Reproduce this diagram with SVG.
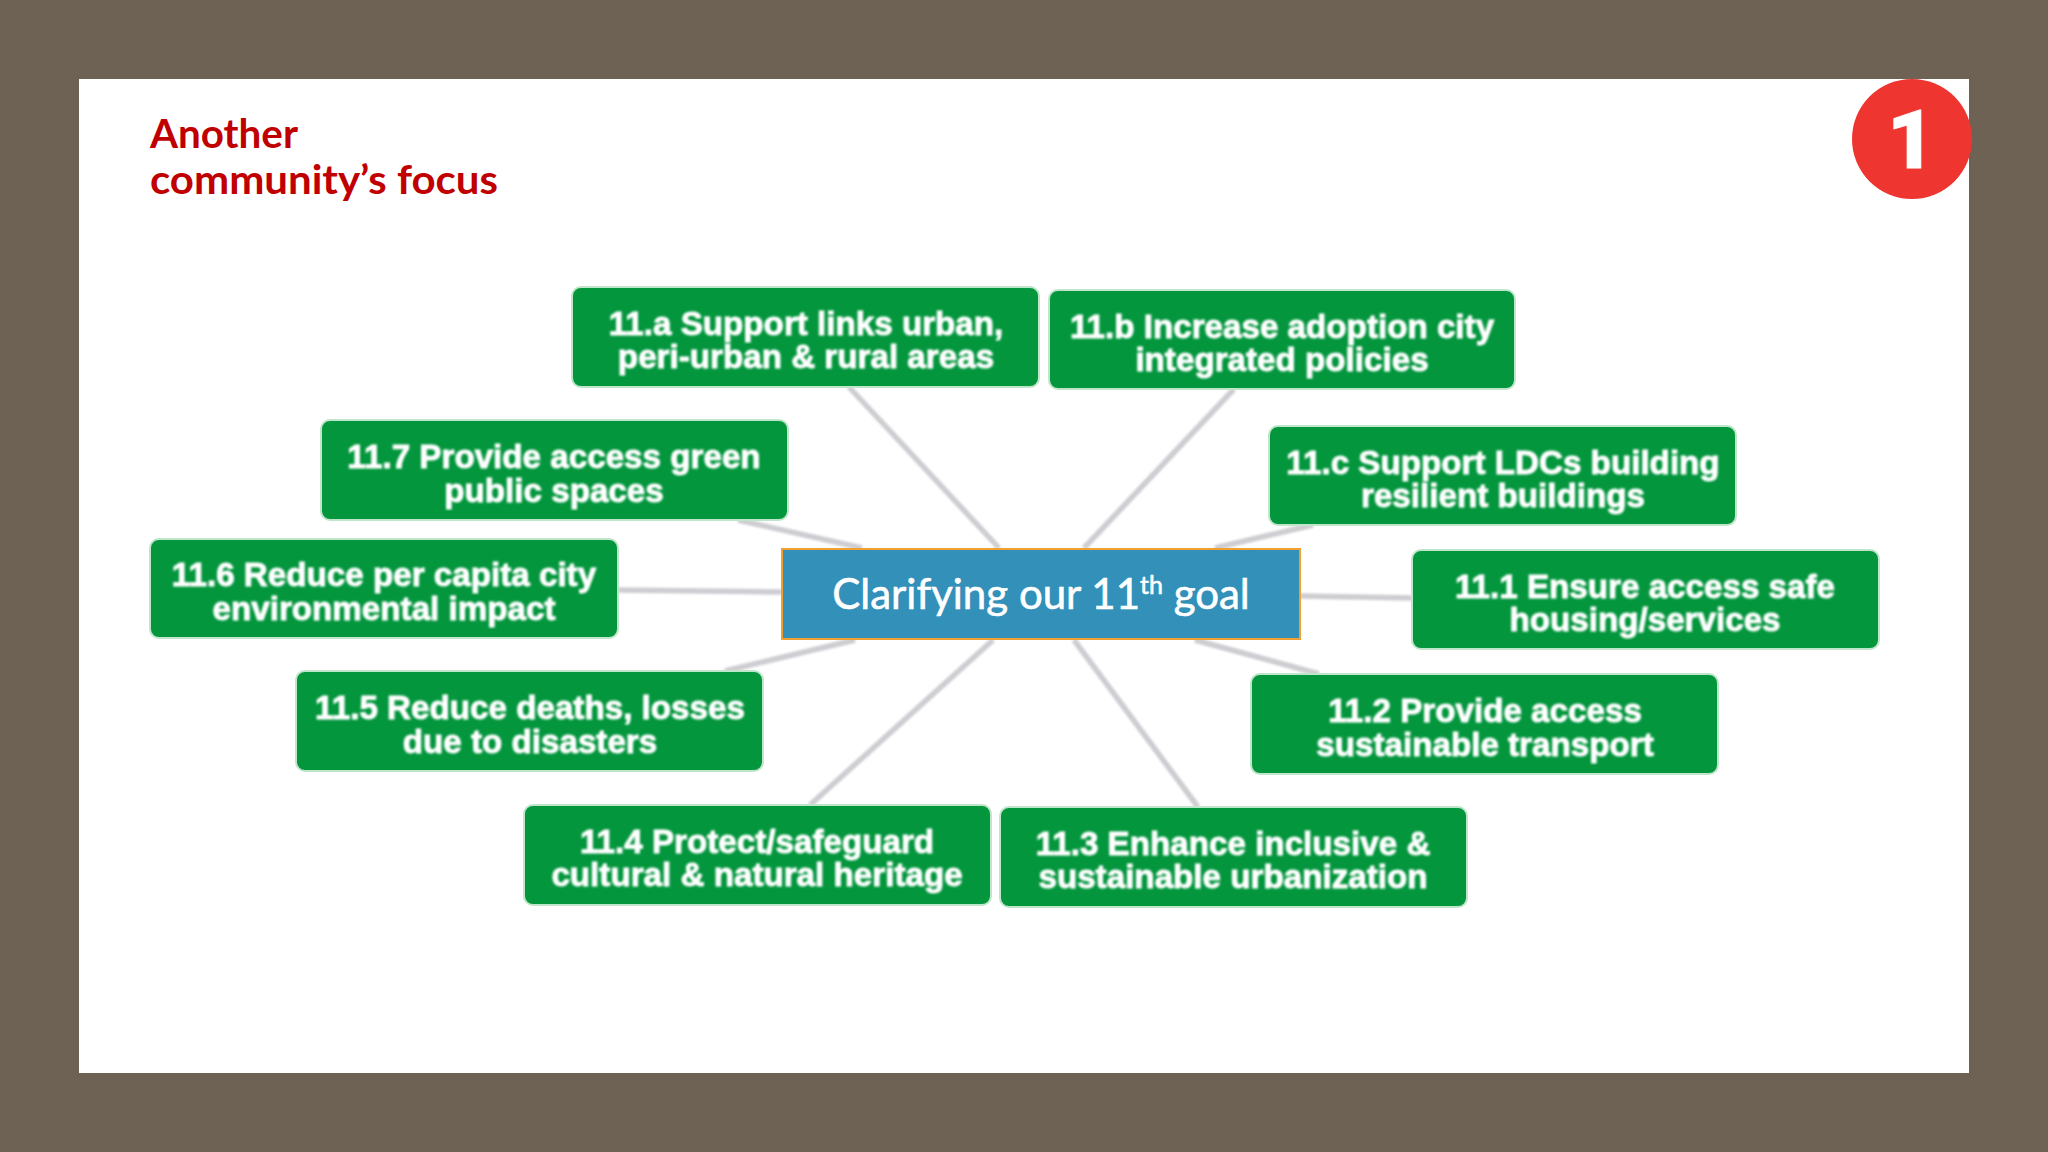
<svg xmlns="http://www.w3.org/2000/svg" width="2048" height="1152" viewBox="0 0 2048 1152">
<defs><filter id="soft" x="-5%" y="-5%" width="110%" height="110%"><feGaussianBlur stdDeviation="0.9"/></filter>
<filter id="softline" filterUnits="userSpaceOnUse" x="0" y="0" width="2048" height="1152"><feGaussianBlur stdDeviation="1.1"/></filter></defs>
<style>
.box{fill:#03963d;stroke:#bfe5cb;stroke-width:2}
.lbl{font-family:"Liberation Sans",Arial,sans-serif;font-weight:700;font-size:33.2px;fill:#fff;stroke:#fff;stroke-width:.9;text-anchor:middle;filter:url(#soft)}
.ttl{font-family:Lato,"Liberation Sans",sans-serif;font-weight:700;font-size:41px;fill:#c00000}
#connectors line{stroke:#cdcdd2;stroke-width:5.5;filter:url(#softline)}
</style>
<rect width="2048" height="1152" fill="#6d6253"/>
<rect x="79" y="79" width="1890" height="994" fill="#fff"/>
<text class="ttl" x="150" y="148" textLength="148" lengthAdjust="spacingAndGlyphs">Another</text>
<text class="ttl" x="150" y="194" textLength="348" lengthAdjust="spacingAndGlyphs">community’s focus</text>
<g id="badge"><circle cx="1912" cy="139" r="60" fill="#ee3530"/><text x="1911" y="167.5" font-family="Roboto,'Liberation Sans',sans-serif" font-weight="900" font-size="82" fill="#fff" stroke="#fff" stroke-width="1" text-anchor="middle">1</text></g>
<g id="connectors">
<line x1="849" y1="387" x2="999" y2="548"/><line x1="1234" y1="389" x2="1084" y2="548"/>
<line x1="738" y1="520" x2="862" y2="548"/><line x1="1313" y1="525" x2="1215" y2="548"/>
<line x1="618" y1="590" x2="782" y2="592"/><line x1="1300" y1="596" x2="1412" y2="598"/>
<line x1="725" y1="671" x2="855" y2="640"/><line x1="1319" y1="674" x2="1195" y2="640"/>
<line x1="810" y1="805" x2="993" y2="640"/><line x1="1198" y1="807" x2="1074" y2="640"/>
</g>
<g id="center"><rect x="782" y="549" width="518" height="90" fill="#3390b9" stroke="#f0a030" stroke-width="2"/>
<text x="1041" y="609" font-family="Lato,'Liberation Sans',sans-serif" font-size="42" fill="#fff" stroke="#fff" stroke-width=".6" text-anchor="middle">Clarifying our 11<tspan font-size="25" dy="-15">th</tspan><tspan dy="15"> goal</tspan></text></g>
<g id="n11a"><rect class="box" x="572" y="287" width="467" height="100" rx="9"/><text class="lbl" x="806" y="335">11.a Support links urban,</text><text class="lbl" x="806" y="368">peri-urban &amp; rural areas</text></g>
<g id="n11b"><rect class="box" x="1049" y="290" width="466" height="99" rx="9"/><text class="lbl" x="1282" y="338">11.b Increase adoption city</text><text class="lbl" x="1282" y="371">integrated policies</text></g>
<g id="n117"><rect class="box" x="321" y="420" width="467" height="100" rx="9"/><text class="lbl" x="554" y="468">11.7 Provide access green</text><text class="lbl" x="554" y="502">public spaces</text></g>
<g id="n11c"><rect class="box" x="1269" y="426" width="467" height="99" rx="9"/><text class="lbl" x="1503" y="474">11.c Support LDCs building</text><text class="lbl" x="1503" y="507">resilient buildings</text></g>
<g id="n116"><rect class="box" x="150" y="539" width="468" height="99" rx="9"/><text class="lbl" x="384" y="586">11.6 Reduce per capita city</text><text class="lbl" x="384" y="620">environmental impact</text></g>
<g id="n111"><rect class="box" x="1412" y="550" width="467" height="99" rx="9"/><text class="lbl" x="1645" y="598">11.1 Ensure access safe</text><text class="lbl" x="1645" y="631">housing/services</text></g>
<g id="n115"><rect class="box" x="296" y="671" width="467" height="100" rx="9"/><text class="lbl" x="530" y="719">11.5 Reduce deaths, losses</text><text class="lbl" x="530" y="753">due to disasters</text></g>
<g id="n112"><rect class="box" x="1251" y="674" width="467" height="100" rx="9"/><text class="lbl" x="1485" y="722">11.2 Provide access</text><text class="lbl" x="1485" y="756">sustainable transport</text></g>
<g id="n114"><rect class="box" x="524" y="805" width="467" height="100" rx="9"/><text class="lbl" x="757" y="853">11.4 Protect/safeguard</text><text class="lbl" x="757" y="886">cultural &amp; natural heritage</text></g>
<g id="n113"><rect class="box" x="1000" y="807" width="467" height="100" rx="9"/><text class="lbl" x="1233" y="855">11.3 Enhance inclusive &amp;</text><text class="lbl" x="1233" y="888">sustainable urbanization</text></g>
</svg>
